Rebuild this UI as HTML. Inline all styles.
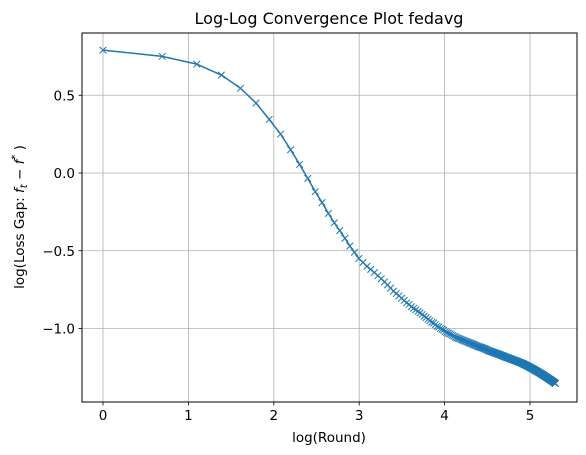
<!DOCTYPE html>
<html><head><meta charset="utf-8">
<style>body{margin:0;background:#fff}svg{display:block;font-family:"DejaVu Sans","Liberation Sans",sans-serif}</style>
</head><body>
<svg id="chart" width="586" height="455" viewBox="0 0 586 455">
<text x="329" y="24" font-size="16" text-anchor="middle">Log-Log Convergence Plot fedavg</text>
<g id="grid"></g>
<g id="series"></g>
<rect x="82" y="33" width="495" height="369" fill="none" stroke="#000" stroke-width="1"/>
<g id="ticks" font-size="13.5"></g>
<text x="329" y="442" font-size="13.5" text-anchor="middle">log(Round)</text>
<text transform="translate(24,217) rotate(-90)" font-size="13.5" text-anchor="middle">log(Loss Gap: <tspan font-style="italic">f</tspan><tspan font-size="10" font-style="italic" dy="3">t</tspan><tspan dy="-3"> − </tspan><tspan font-style="italic">f</tspan><tspan font-size="10" dy="-6">*</tspan><tspan dy="6"> )</tspan></text>
</svg>
<script>
const xTicks=[0,1,2,3,4,5];
const yTicks=[0.5,0.0,-0.5,-1.0];
const yTickLabels=["0.5","0.0","−0.5","−1.0"];
const lossGap=[0.79,0.75,0.70,0.63,0.545,0.45,0.345,0.25,0.15,0.055,
-0.035,-0.12,-0.19,-0.26,-0.32,-0.37,-0.42,-0.47,-0.51,-0.55,
-0.575,-0.60,-0.62,-0.64,-0.66,-0.68,-0.70,-0.72,-0.74,-0.76,
-0.775,-0.79,-0.805,-0.82,-0.835,-0.845,-0.86,-0.87,-0.88,-0.89,
-0.90,-0.91,-0.92,-0.93,-0.94,-0.95,-0.96,-0.965,-0.975,-0.985,
-0.99,-1.00,-1.005,-1.01,-1.02,-1.025,-1.03,-1.035,-1.04,-1.045,
-1.05,-1.055,-1.06,-1.063,-1.066,-1.07,-1.073,-1.076,-1.08,-1.083,
-1.086,-1.089,-1.092,-1.095,-1.098,-1.101,-1.104,-1.107,-1.11,-1.113,
-1.116,-1.118,-1.12,-1.122,-1.125,-1.127,-1.13,-1.132,-1.135,-1.138,
-1.142,-1.144,-1.146,-1.148,-1.150,-1.152,-1.154,-1.156,-1.158,-1.160,
-1.162,-1.164,-1.166,-1.168,-1.170,-1.172,-1.174,-1.176,-1.178,-1.180,
-1.182,-1.184,-1.186,-1.188,-1.189,-1.191,-1.193,-1.195,-1.197,-1.198,
-1.200,-1.202,-1.203,-1.205,-1.207,-1.208,-1.210,-1.212,-1.213,-1.215,
-1.217,-1.218,-1.220,-1.222,-1.223,-1.225,-1.227,-1.229,-1.231,-1.233,
-1.235,-1.237,-1.239,-1.241,-1.243,-1.245,-1.247,-1.249,-1.251,-1.253,
-1.255,-1.257,-1.259,-1.261,-1.263,-1.265,-1.267,-1.269,-1.271,-1.273,
-1.275,-1.277,-1.279,-1.281,-1.283,-1.285,-1.287,-1.289,-1.291,-1.293,
-1.295,-1.297,-1.299,-1.301,-1.303,-1.305,-1.307,-1.309,-1.311,-1.313,
-1.315,-1.317,-1.319,-1.321,-1.323,-1.325,-1.327,-1.329,-1.331,-1.333,
-1.335,-1.337,-1.339,-1.341,-1.343,-1.345,-1.347,-1.349,-1.351,-1.353];

const NS="http://www.w3.org/2000/svg";
const X=v=>103+v*85.4;
const Y=v=>173-v*155.5;
function mk(tag,attrs,parent){const e=document.createElementNS(NS,tag);for(const k in attrs)e.setAttribute(k,attrs[k]);parent.appendChild(e);return e;}
const grid=document.getElementById('grid'),ticks=document.getElementById('ticks'),ser=document.getElementById('series');
xTicks.forEach(t=>{
  const g=mk('line',{x1:X(t),x2:X(t),y1:33,y2:402,stroke:'#b0b0b0','stroke-width':0.8},grid);
  
  
  mk('line',{x1:X(t),x2:X(t),y1:402,y2:405.5,stroke:'#000','stroke-width':0.8},ticks);
  const l=mk('text',{x:X(t),y:420,'text-anchor':'middle'},ticks);l.textContent=String(t);
  
  
});
yTicks.forEach((t,i)=>{
  const g=mk('line',{x1:82,x2:577,y1:Y(t),y2:Y(t),stroke:'#b0b0b0','stroke-width':0.8},grid);
  
  
  mk('line',{x1:78.5,x2:82,y1:Y(t),y2:Y(t),stroke:'#000','stroke-width':0.8},ticks);
  const l=mk('text',{x:75,y:Y(t)+5,'text-anchor':'end'},ticks);l.textContent=yTickLabels[i];
  
  
});
const pts=lossGap.map((v,i)=>[X(Math.log(i+1)),Y(v)]);
const line=mk('polyline',{points:pts.map(p=>p.join(',')).join(' '),fill:'none',stroke:'#1f77b4','stroke-width':1.5,'stroke-linejoin':'round'},ser);


pts.forEach(p=>{
  const s=3.3;
  const m=mk('path',{d:`M${p[0]-s},${p[1]-s}L${p[0]+s},${p[1]+s}M${p[0]-s},${p[1]+s}L${p[0]+s},${p[1]-s}`,stroke:'#1f77b4','stroke-width':1,fill:'none'},ser);
  
  
});
</script>
</body></html>
